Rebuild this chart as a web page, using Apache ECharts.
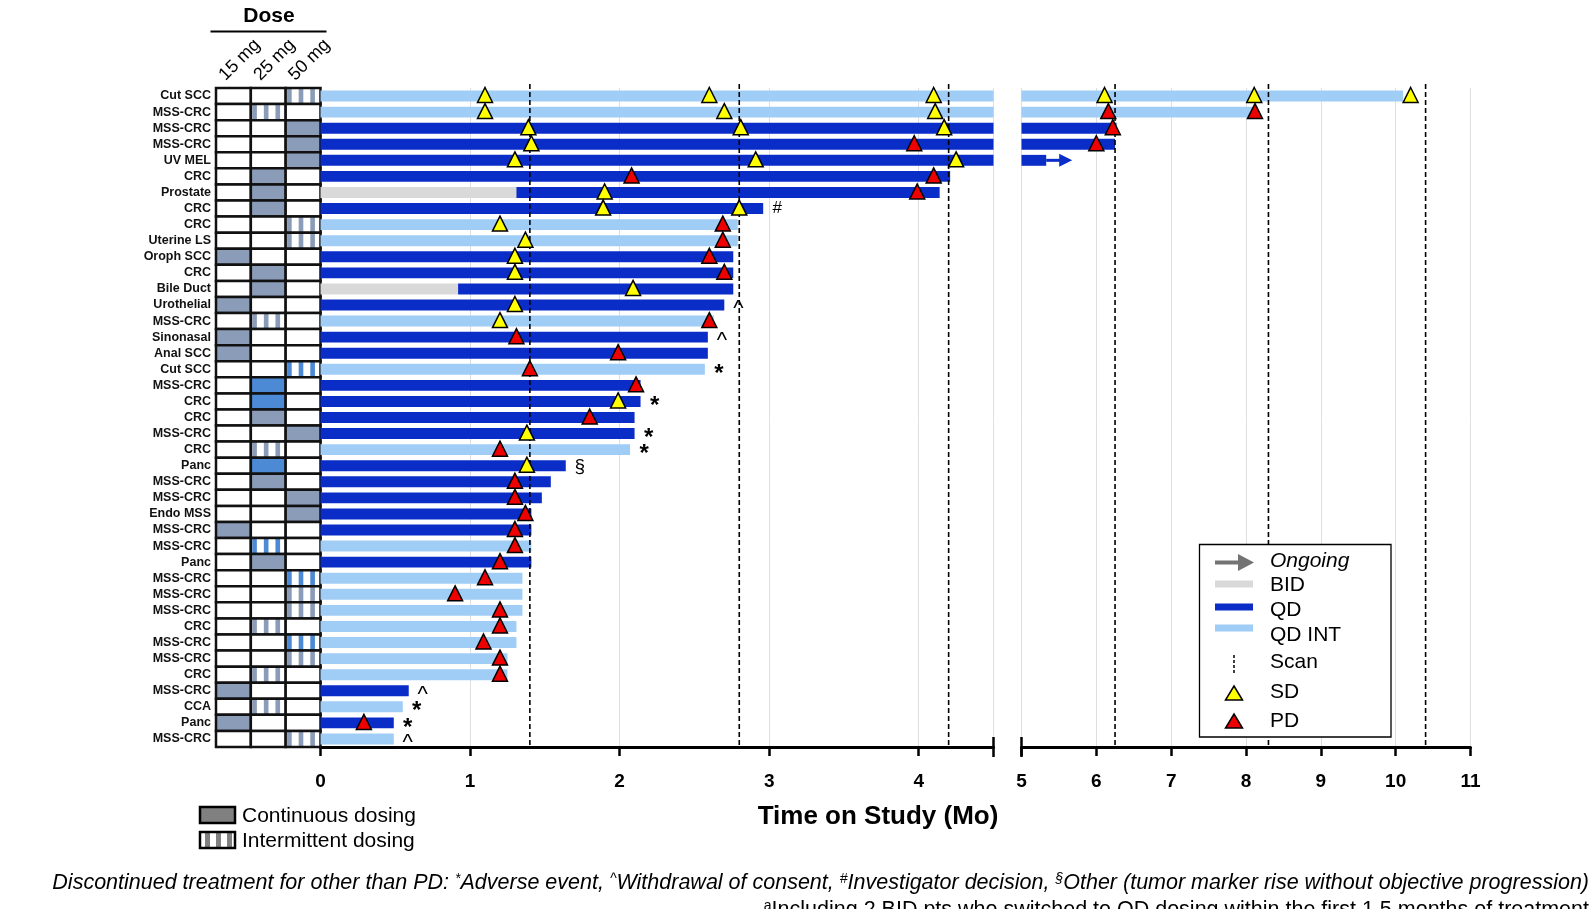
<!DOCTYPE html>
<html>
<head>
<meta charset="utf-8">
<script src="https://cdn.jsdelivr.net/npm/echarts@6/dist/echarts.min.js"></script>
<style>
    html, body { margin: 0; padding: 0; background: #fff; }
    #chart { width: 1590px; height: 909px; }
</style>
</head>
<body>
<div id="chart"></div>
<script>
    // ---- data (top row first) ----
    var rowLabels = ['Cut SCC', 'MSS-CRC', 'MSS-CRC', 'MSS-CRC', 'UV MEL', 'CRC', 'Prostate', 'CRC', 'CRC', 'Uterine LS',
        'Oroph SCC', 'CRC', 'Bile Duct', 'Urothelial', 'MSS-CRC', 'Sinonasal', 'Anal SCC', 'Cut SCC', 'MSS-CRC', 'CRC',
        'CRC', 'MSS-CRC', 'CRC', 'Panc', 'MSS-CRC', 'MSS-CRC', 'Endo MSS', 'MSS-CRC', 'MSS-CRC', 'Panc',
        'MSS-CRC', 'MSS-CRC', 'MSS-CRC', 'CRC', 'MSS-CRC', 'MSS-CRC', 'CRC', 'MSS-CRC', 'CCA', 'Panc', 'MSS-CRC'];
    var doseLevels = ['15 mg', '25 mg', '50 mg'];
    // column index into doseLevels
    var doseCol = [2, 1, 2, 2, 2, 1, 1, 1, 2, 2, 0, 1, 1, 0, 1, 0, 0, 2, 1, 1,
        1, 2, 1, 1, 1, 2, 2, 0, 1, 1, 2, 2, 2, 1, 2, 2, 1, 0, 1, 0, 2];
    // C = continuous, I = intermittent, B suffix = blue shade
    var doseMode = ['I', 'I', 'C', 'C', 'C', 'C', 'C', 'C', 'I', 'I', 'C', 'C', 'C', 'C', 'I', 'C', 'C', 'IB', 'CB', 'CB',
        'C', 'C', 'I', 'CB', 'C', 'C', 'C', 'C', 'IB', 'C', 'IB', 'I', 'I', 'I', 'IB', 'I', 'I', 'C', 'I', 'C', 'I'];
    var bidEnd = [0, 0, 0, 0, 0, 0, 1.31, 0, 0, 0, 0, 0, 0.92, 0, 0, 0, 0, 0, 0, 0,
        0, 0, 0, 0, 0, 0, 0, 0, 0, 0, 0, 0, 0, 0, 0, 0, 0, 0, 0, 0, 0];
    var txEnd = [10.1, 8.11, 6.27, 6.25, 5.33, 4.21, 4.14, 2.96, 2.79, 2.79, 2.76, 2.76, 2.76, 2.70, 2.63, 2.59, 2.59, 2.57, 2.14, 2.14,
        2.10, 2.10, 2.07, 1.64, 1.54, 1.48, 1.41, 1.41, 1.41, 1.41, 1.35, 1.35, 1.35, 1.31, 1.31, 1.25, 1.25, 0.59, 0.55, 0.49, 0.49];
    var schedule = ['INT', 'INT', 'QD', 'QD', 'QD', 'QD', 'QD', 'QD', 'INT', 'INT', 'QD', 'QD', 'QD', 'QD', 'INT', 'QD', 'QD', 'INT', 'QD', 'QD',
        'QD', 'QD', 'INT', 'QD', 'QD', 'QD', 'QD', 'QD', 'INT', 'QD', 'INT', 'INT', 'INT', 'INT', 'INT', 'INT', 'INT', 'QD', 'INT', 'QD', 'INT'];
    var ongoing = [0, 0, 0, 0, 1, 0, 0, 0, 0, 0, 0, 0, 0, 0, 0, 0, 0, 0, 0, 0,
        0, 0, 0, 0, 0, 0, 0, 0, 0, 0, 0, 0, 0, 0, 0, 0, 0, 0, 0, 0, 0];
    var sdTimes = [[1.1, 2.6, 4.1, 6.11, 8.11, 10.2], [1.1, 2.7, 4.11], [1.39, 2.81, 4.17], [1.41], [1.3, 2.91, 4.25], [], [1.9], [1.89, 2.8], [1.2], [1.37],
        [1.3], [1.3], [2.09], [1.3], [1.2], [], [], [], [], [1.99],
        [], [1.38], [], [1.38], [], [], [], [], [], [],
        [], [], [], [], [], [], [], [], [], [], []];
    var pdTimes = [[], [6.16, 8.12], [6.22], [3.97, 6.0], [], [2.08, 4.1], [3.99], [], [2.69], [2.69],
        [2.6], [2.7], [], [], [2.6], [1.31], [1.99], [1.4], [2.11], [],
        [1.8], [], [1.2], [], [1.3], [1.3], [1.37], [1.3], [1.3], [1.2],
        [1.1], [0.9], [1.2], [1.2], [1.09], [1.2], [1.2], [], [], [0.29], []];
    var notes = ['', '', '', '', '', '', '', '#', '', '', '', '', '', '^', '', '^', '', '*', '', '*',
        '', '*', '*', '§', '', '', '', '', '', '', '', '', '', '', '', '', '', '^', '*', '*', '^'];
    var scanLeft = [1.4, 2.8, 4.2];
    var scanRight = [6.25, 8.3, 10.4];
    var leftRange = [0, 4.5];
    var rightRange = [5, 11];

    var FONT = '"Liberation Sans", Arial, Helvetica, sans-serif';
    var C_QD = '#0a2dc8', C_INT = '#a0cdf5', C_BID = '#d9d9d9';
    var C_DOSE = '#8b9cb8', C_DOSE_B = '#4d8ad6';

    function kindColor(k) {
        return k === 'BID' ? C_BID : (k === 'INT' ? C_INT : C_QD);
    }

    // bar segments (BID lead-in, then QD / QD INT)
    var segs = [];
    rowLabels.forEach(function (lab, r) {
        if (bidEnd[r] > 0) segs.push({row: r, from: 0, to: bidEnd[r], kind: 'BID'});
        segs.push({row: r, from: bidEnd[r], to: txEnd[r], kind: schedule[r]});
    });
    var segData = segs.map(function (s) { return [s.from, s.to, s.row]; });

    // dose grid cells
    var cells = [];
    rowLabels.forEach(function (lab, r) {
        for (var c = 0; c < doseLevels.length; c++) {
            cells.push({c: c, r: r, mode: doseCol[r] === c ? doseMode[r] : ''});
        }
    });

    function renderCell(params, api) {
        var cell = cells[params.dataIndex];
        var ctr = api.coord([cell.c, cell.r]);
        var sz = api.size([1, 1]);
        var x = ctr[0] - sz[0] / 2, y = ctr[1] - sz[1] / 2, w = sz[0], h = sz[1];
        var kids = [{type: 'rect', shape: {x: x, y: y, width: w, height: h}, style: {fill: '#fff'}}];
        var col = cell.mode.indexOf('B') >= 0 ? C_DOSE_B : C_DOSE;
        if (cell.mode.charAt(0) === 'C') {
            kids.push({type: 'rect', shape: {x: x, y: y, width: w, height: h}, style: {fill: col}});
        } else if (cell.mode.charAt(0) === 'I') {
            var p = w / 3;
            for (var k = 0; k < 3; k++) {
                kids.push({type: 'rect', shape: {x: x + p * k + p * 0.12, y: y, width: p * 0.4, height: h}, style: {fill: col}});
            }
        }
        kids.push({type: 'rect', shape: {x: x, y: y, width: w, height: h}, style: {fill: null, stroke: '#111', lineWidth: 2.5}});
        return {type: 'group', children: kids};
    }

    function renderBar(params, api) {
        var s = segs[params.dataIndex];
        var a = api.coord([s.from, s.row]);
        var b = api.coord([s.to, s.row]);
        var h = api.size([0, 1])[1] * 0.68;
        var cs = params.coordSys;
        var shape = echarts.graphic.clipRectByRect(
            {x: a[0], y: a[1] - h / 2, width: b[0] - a[0], height: h},
            {x: cs.x, y: cs.y, width: cs.width, height: cs.height});
        var kids = [];
        var fill = kindColor(s.kind);
        if (shape) kids.push({type: 'rect', shape: shape, style: {fill: fill}});
        if (ongoing[s.row] && s.kind !== 'BID' && b[0] > cs.x && b[0] < cs.x + cs.width) {
            kids.push({type: 'rect', shape: {x: b[0], y: b[1] - 1.5, width: 15, height: 3}, style: {fill: fill}});
            kids.push({type: 'polygon', shape: {points: [[b[0] + 13, b[1] - 6.5], [b[0] + 26, b[1]], [b[0] + 13, b[1] + 6.5]]}, style: {fill: fill}});
        }
        return {type: 'group', children: kids};
    }

    function renderScan(params, api) {
        var p = api.coord([api.value(0), 0]);
        var cs = params.coordSys;
        return {
            type: 'line',
            shape: {x1: p[0], y1: cs.y - 4, x2: p[0], y2: cs.y + cs.height},
            style: {stroke: '#000', lineWidth: 1.6, lineDash: [5, 3]}
        };
    }

    var noteStyle = {
        '*': {font: 'bold 24px ' + FONT, dy: 5},
        '^': {font: '22px ' + FONT, dy: 4},
        '#': {font: '17px ' + FONT, dy: 0},
        '§': {font: '19px ' + FONT, dy: 1}
    };
    var noteData = [];
    notes.forEach(function (n, r) { if (n) noteData.push([txEnd[r], r, n]); });

    function renderNote(params, api) {
        var item = noteData[params.dataIndex];
        var p = api.coord([item[0], item[1]]);
        var st = noteStyle[item[2]];
        return {
            type: 'text', x: p[0] + 14, y: p[1] + st.dy,
            style: {text: item[2], font: st.font, fill: '#000', align: 'center', verticalAlign: 'middle'}
        };
    }

    function markers(times, range) {
        var out = [];
        times.forEach(function (list, r) {
            list.forEach(function (t) { if (t >= range[0] && t <= range[1]) out.push([t, r]); });
        });
        return out;
    }

    function markerSeries(name, times, range, axis, color) {
        return {
            name: name, type: 'scatter', xAxisIndex: axis, yAxisIndex: axis, z: 6,
            symbol: 'triangle', symbolSize: 15, symbolOffset: [0, -1],
            itemStyle: {color: color, borderColor: '#000', borderWidth: 1.5, opacity: 1},
            data: markers(times, range)
        };
    }

    var timeAxisBase = {
        type: 'value', interval: 1,
        axisLine: {show: true, onZero: false, lineStyle: {color: '#000', width: 3}},
        axisTick: {show: true, length: 9, lineStyle: {color: '#000', width: 2.5}},
        axisLabel: {fontFamily: FONT, fontWeight: 'bold', fontSize: 19, color: '#000', margin: 25},
        splitLine: {show: true, lineStyle: {color: '#dedede', width: 1}}
    };

    var catY = function (grid, show) {
        return {
            type: 'category', gridIndex: grid, data: rowLabels, inverse: true,
            axisLine: {show: false}, axisTick: {show: false}, splitLine: {show: false},
            axisLabel: show ? {interval: 0, fontFamily: FONT, fontWeight: 'bold', fontSize: 12.5, color: '#111', margin: 5} : {show: false}
        };
    };

    var option = {
        animation: false,
        backgroundColor: '#fff',
        grid: [
            {left: 216, top: 88, width: 104.5, height: 659, outerBoundsMode: 'none', containLabel: false},
            {left: 320.5, top: 88, width: 673, height: 659, outerBoundsMode: 'none', containLabel: false},
            {left: 1021.5, top: 88, width: 449, height: 659, outerBoundsMode: 'none', containLabel: false}
        ],
        xAxis: [
            {
                type: 'category', gridIndex: 0, data: doseLevels, position: 'top',
                axisLine: {show: false}, axisTick: {show: false}, axisLabel: {show: false}
            },
            echarts.util.merge({gridIndex: 1, min: leftRange[0], max: leftRange[1],
                axisLabel: {showMaxLabel: false}}, timeAxisBase),
            echarts.util.merge({gridIndex: 2, min: rightRange[0], max: rightRange[1]}, timeAxisBase)
        ],
        yAxis: [catY(0, true), catY(1, false), catY(2, false)],
        series: [
            {type: 'custom', name: 'dose', xAxisIndex: 0, yAxisIndex: 0, renderItem: renderCell,
                data: cells.map(function (c) { return [c.c, c.r]; }), encode: {x: 0, y: 1}, z: 2},
            {type: 'custom', name: 'bars', xAxisIndex: 1, yAxisIndex: 1, renderItem: renderBar,
                data: segData, encode: {x: [0, 1], y: 2}, z: 2},
            {type: 'custom', name: 'bars', xAxisIndex: 2, yAxisIndex: 2, renderItem: renderBar,
                data: segData, encode: {x: [0, 1], y: 2}, z: 2},
            {type: 'custom', name: 'scan', xAxisIndex: 1, yAxisIndex: 1, renderItem: renderScan,
                data: scanLeft.map(function (v) { return [v, 0]; }), encode: {x: 0, y: 1}, z: 4},
            {type: 'custom', name: 'scan', xAxisIndex: 2, yAxisIndex: 2, renderItem: renderScan,
                data: scanRight.map(function (v) { return [v, 0]; }), encode: {x: 0, y: 1}, z: 4},
            {type: 'custom', name: 'notes', xAxisIndex: 1, yAxisIndex: 1, renderItem: renderNote,
                data: noteData.map(function (d) { return [d[0], d[1]]; }), encode: {x: 0, y: 1}, z: 5},
            markerSeries('SD', sdTimes, leftRange, 1, '#ffff00'),
            markerSeries('PD', pdTimes, leftRange, 1, '#ee0000'),
            markerSeries('SD', sdTimes, rightRange, 2, '#ffff00'),
            markerSeries('PD', pdTimes, rightRange, 2, '#ee0000')
        ]
    };

    var chart = echarts.init(document.getElementById('chart'));
    chart.setOption(option);

    // broken-axis caps and static annotations
    var capL = chart.convertToPixel({xAxisIndex: 1}, leftRange[1]);
    var capR = chart.convertToPixel({xAxisIndex: 2}, rightRange[0]);
    var axisY = 88 + 659;

    function txt(x, y, text, font, extra) {
        var st = {text: text, font: font, fill: '#000', verticalAlign: 'middle'};
        if (extra) echarts.util.extend(st, extra);
        return {type: 'text', x: x, y: y, style: st, z: 20};
    }

    var graphics = [
        {type: 'line', shape: {x1: capL, y1: axisY - 10, x2: capL, y2: axisY + 10}, style: {stroke: '#000', lineWidth: 2.5}, z: 20},
        {type: 'line', shape: {x1: capR, y1: axisY - 10, x2: capR, y2: axisY + 10}, style: {stroke: '#000', lineWidth: 2.5}, z: 20},
        // dose header
        txt(269, 16, 'Dose', 'bold 21px ' + FONT, {align: 'center'}),
        {type: 'line', shape: {x1: 210.5, y1: 31.5, x2: 326.5, y2: 31.5}, style: {stroke: '#000', lineWidth: 2}, z: 20},
        // axis title
        txt(878, 817, 'Time on Study (Mo)', 'bold 26px ' + FONT, {align: 'center'}),
        // dosing legend
        {type: 'rect', shape: {x: 200, y: 807, width: 35, height: 16}, style: {fill: '#808080', stroke: '#000', lineWidth: 2.5}, z: 20},
        txt(242, 816, 'Continuous dosing', '21px ' + FONT),
        {type: 'rect', shape: {x: 200, y: 832, width: 35, height: 16}, style: {fill: '#fff'}, z: 19},
        {type: 'rect', shape: {x: 205, y: 832, width: 5, height: 16}, style: {fill: '#808080'}, z: 20},
        {type: 'rect', shape: {x: 216, y: 832, width: 5, height: 16}, style: {fill: '#808080'}, z: 20},
        {type: 'rect', shape: {x: 227, y: 832, width: 5, height: 16}, style: {fill: '#808080'}, z: 20},
        {type: 'rect', shape: {x: 200, y: 832, width: 35, height: 16}, style: {fill: null, stroke: '#000', lineWidth: 2.5}, z: 21},
        txt(242, 841, 'Intermittent dosing', '21px ' + FONT)
    ];

    // rotated dose level labels above the grid columns
    doseLevels.forEach(function (lab, i) {
        var cx = chart.convertToPixel({xAxisIndex: 0}, i);
        graphics.push({
            type: 'text', x: cx - 5, y: 84, rotation: Math.PI / 4, z: 20,
            style: {text: lab, font: '18px ' + FONT, fill: '#000', align: 'left', verticalAlign: 'bottom'}
        });
    });

    graphics = graphics.concat([
        // response legend
        {type: 'rect', shape: {x: 1199.5, y: 544.5, width: 191.5, height: 192.5}, style: {fill: '#fff', stroke: '#000', lineWidth: 1.3}, z: 15},
        {type: 'rect', shape: {x: 1215, y: 560.5, width: 25, height: 4}, style: {fill: '#737373'}, z: 20},
        {type: 'polygon', shape: {points: [[1238, 554], [1254, 562.5], [1238, 571]]}, style: {fill: '#737373'}, z: 20},
        txt(1270, 561, 'Ongoing', 'italic 21px ' + FONT),
        {type: 'rect', shape: {x: 1215, y: 580.5, width: 38, height: 7}, style: {fill: C_BID}, z: 20},
        txt(1270, 585, 'BID', '21px ' + FONT),
        {type: 'rect', shape: {x: 1215, y: 603.5, width: 38, height: 7}, style: {fill: C_QD}, z: 20},
        txt(1270, 610, 'QD', '21px ' + FONT),
        {type: 'rect', shape: {x: 1215, y: 624.5, width: 38, height: 7}, style: {fill: C_INT}, z: 20},
        txt(1270, 635, 'QD INT', '21px ' + FONT),
        {type: 'line', shape: {x1: 1234, y1: 655, x2: 1234, y2: 673}, style: {stroke: '#000', lineWidth: 1.5, lineDash: [3, 2]}, z: 20},
        txt(1270, 662, 'Scan', '21px ' + FONT),
        {type: 'polygon', shape: {points: [[1234, 686], [1242.5, 700], [1225.5, 700]]}, style: {fill: '#ffff00', stroke: '#000', lineWidth: 1.5}, z: 20},
        txt(1270, 692, 'SD', '21px ' + FONT),
        {type: 'polygon', shape: {points: [[1234, 714], [1242.5, 728], [1225.5, 728]]}, style: {fill: '#ee0000', stroke: '#000', lineWidth: 1.5}, z: 20},
        txt(1270, 721, 'PD', '21px ' + FONT),
        // footnotes
        {
            type: 'text', x: 1589, y: 883, z: 20,
            style: {
                text: 'Discontinued treatment for other than PD: {s|*}Adverse event, {s|^}Withdrawal of consent, {s|#}Investigator decision, {s|§}Other (tumor marker rise without objective progression)',
                font: 'italic 21.5px ' + FONT, fill: '#000', align: 'right', verticalAlign: 'middle',
                rich: {s: {fontSize: 14, fontStyle: 'italic', fontFamily: FONT, verticalAlign: 'top', padding: [0, 0, 6, 0]}}
            }
        },
        {
            type: 'text', x: 1589, y: 910, z: 20,
            style: {
                text: '{s|a}Including 2 BID pts who switched to QD dosing within the first 1.5 months of treatment',
                font: '21.5px ' + FONT, fill: '#000', align: 'right', verticalAlign: 'middle',
                rich: {s: {fontSize: 14, fontFamily: FONT, verticalAlign: 'top', padding: [0, 0, 6, 0]}}
            }
        }
    ]);
    chart.setOption({graphic: graphics});
</script>
</body>
</html>
